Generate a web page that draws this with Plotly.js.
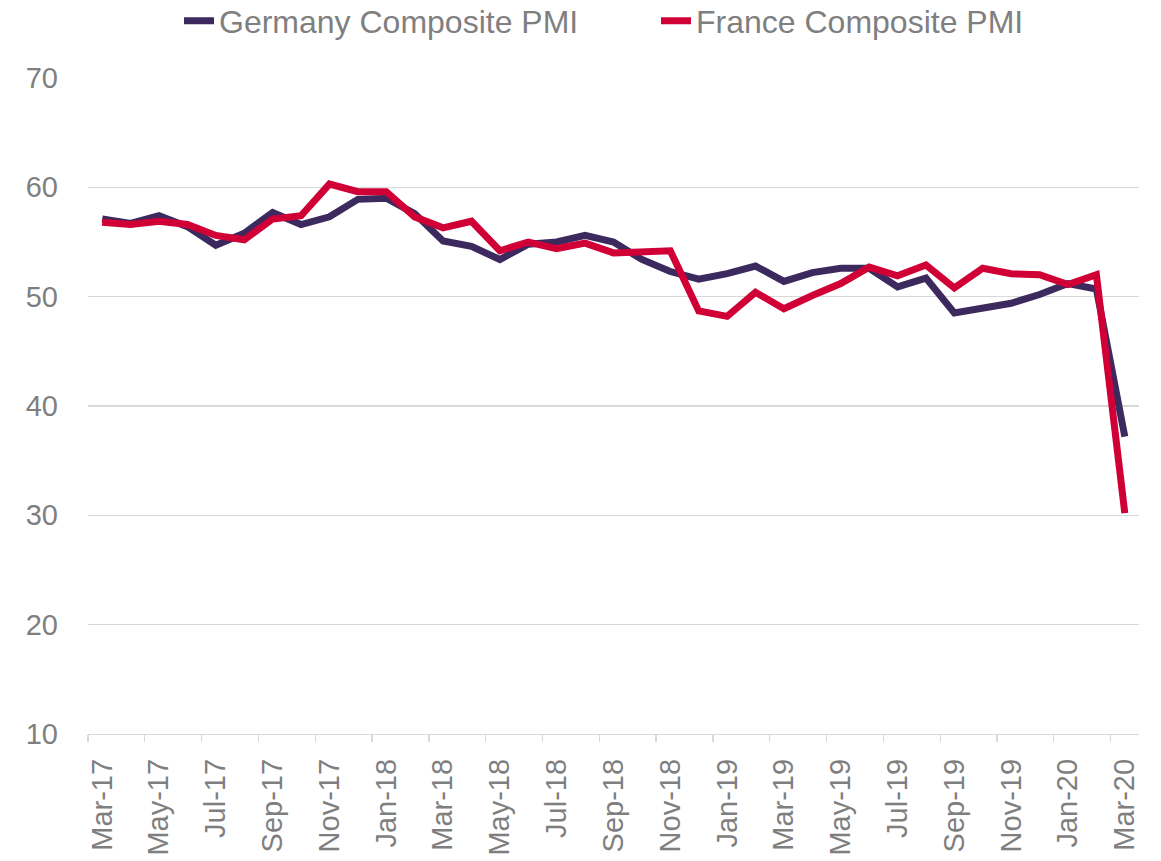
<!DOCTYPE html>
<html>
<head>
<meta charset="utf-8">
<script src="https://cdn.plot.ly/plotly-3.0.1.min.js"></script>
<style>html,body{margin:0;padding:0;background:#fff;}#chart{width:1161px;height:861px;}</style>
</head>
<body>
<div id="chart"></div>
<script>
const months = ["Mar-17","Apr-17","May-17","Jun-17","Jul-17","Aug-17","Sep-17","Oct-17","Nov-17","Dec-17",
  "Jan-18","Feb-18","Mar-18","Apr-18","May-18","Jun-18","Jul-18","Aug-18","Sep-18","Oct-18","Nov-18","Dec-18",
  "Jan-19","Feb-19","Mar-19","Apr-19","May-19","Jun-19","Jul-19","Aug-19","Sep-19","Oct-19","Nov-19","Dec-19",
  "Jan-20","Feb-20","Mar-20"];
const germanyPMI = [57.1,56.7,57.4,56.4,54.7,55.8,57.7,56.6,57.3,58.9,
  59.0,57.6,55.1,54.6,53.4,54.8,55.0,55.6,55.0,53.4,52.3,51.6,
  52.1,52.8,51.4,52.2,52.6,52.6,50.9,51.7,48.5,48.9,49.4,50.2,
  51.2,50.7,37.2];
const francePMI = [56.8,56.6,56.9,56.6,55.6,55.2,57.1,57.4,60.3,59.6,
  59.6,57.3,56.3,56.9,54.2,55.0,54.4,54.9,54.0,54.1,54.2,48.7,
  48.2,50.4,48.9,50.1,51.2,52.7,51.9,52.9,50.8,52.6,52.1,52.0,
  51.1,52.0,30.2];
const seriesNames = ["Germany Composite PMI","France Composite PMI"];

const font = "'Liberation Sans', Arial, sans-serif";
const traces = [
  {x: months, y: germanyPMI, name: seriesNames[0], type: "scatter", mode: "lines",
   line: {color: "#3c2a5f", width: 7}},
  {x: months, y: francePMI, name: seriesNames[1], type: "scatter", mode: "lines",
   line: {color: "#d00036", width: 7}}
];
const layout = {
  width: 1161, height: 861,
  margin: {l: 88, r: 22, t: 78, b: 127},
  paper_bgcolor: "#fff", plot_bgcolor: "#fff",
  font: {family: font, color: "#7f7f7f"},
  showlegend: true,
  legend: {orientation: "h", x: 179/1161, xanchor: "left", xref: "container",
           y: 1 - 21/861, yanchor: "middle", yref: "container",
           font: {size: 32, color: "#7f7f7f", family: font},
           entrywidth: 432, entrywidthmode: "pixels",
           itemwidth: 30, traceorder: "normal"},
  xaxis: {type: "category", range: [-0.5, 36.5], tickmode: "linear", tick0: 0, dtick: 2,
          tickson: "boundaries", ticks: "outside", ticklen: 7, tickcolor: "#d9d9d9", tickwidth: 1.3,
          showgrid: false, showline: true, linecolor: "#d9d9d9", linewidth: 1.3,
          ticklabelstandoff: 12,
          tickangle: -90, tickfont: {size: 29, color: "#7f7f7f", family: font}, zeroline: false},
  yaxis: {range: [10, 70], tickmode: "linear", tick0: 10, dtick: 10,
          showgrid: true, gridcolor: "#d9d9d9", gridwidth: 1.3, zeroline: false, showline: false,
          ticks: "", ticklabelstandoff: 29,
          tickfont: {size: 29, color: "#7f7f7f", family: font}}
};
Plotly.newPlot("chart", traces, layout, {displayModeBar: false, staticPlot: true});
</script>
</body>
</html>
